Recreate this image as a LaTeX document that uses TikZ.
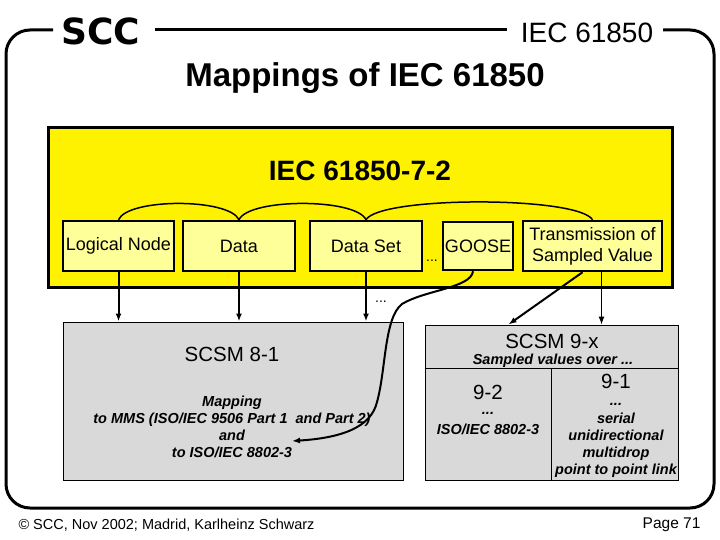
\documentclass[tikz,border=0pt]{standalone}
\usepackage{fontspec}
\setmainfont{Liberation Sans}
\newfontfamily\logofont{DejaVu Sans}
\usetikzlibrary{arrows.meta}
\definecolor{boxyellow}{RGB}{255,255,153}
\definecolor{mapgray}{RGB}{217,217,217}

\begin{document}
\begin{tikzpicture}[x=1pt,y=-1pt,
    objbox/.style={draw,line width=2.5pt,fill=boxyellow,inner sep=0pt,
        minimum height=50pt,font=\fontsize{18}{21}\selectfont,align=center},
    mapbox/.style={draw,line width=1pt,fill=mapgray,inner sep=0pt},
    note/.style={font=\fontsize{14.5}{17}\selectfont\bfseries\itshape,align=center,inner sep=1pt},
    dotsnote/.style={note,inner sep=0pt,text height=2.5pt,text depth=0pt},
    big/.style={font=\fontsize{20.5}{22}\selectfont,inner sep=1pt},
    arr/.style={line width=2pt,-{Latex[length=8pt,width=6pt]}},
    thinarr/.style={line width=1pt,-{Latex[length=8pt,width=6pt]}}]
    \useasboundingbox (0,0) rectangle (720,540);

    \draw[line width=3pt,rounded corners=24]
        (663,30) -- (714,30) -- (714,508) -- (6,508) -- (6,30) -- (53,30);
    \draw[line width=3pt] (155,30) -- (507,30);
    \node[font=\logofont\fontsize{36}{40}\selectfont\bfseries] (scc) at (101,31) {SCC};
    \node[font=\fontsize{28}{32}\selectfont] (hdr) at (587,33) {IEC 61850};
    \node[font=\fontsize{33}{36}\selectfont\bfseries] (title) at (365,78) {Mappings of IEC 61850};

    \node[draw,line width=3pt,fill=yellow,minimum width=624pt,minimum height=159pt] (iecbox) at (360,207.5) {};
    \node[font=\fontsize{28}{32}\selectfont\bfseries] (iectitle) at (360,171) {IEC 61850-7-2};

    \node[objbox,minimum width=111pt] (ln) at (118.5,246) {Logical Node};
    \node[objbox,minimum width=112pt] (data) at (239,246) {Data};
    \node[objbox,minimum width=112pt] (dset) at (366,246) {Data Set};
    \node[objbox,minimum width=70pt,minimum height=48pt] (goose) at (478,246) {GOOSE};
    \node[objbox,minimum width=139pt] (tsv) at (592.5,246) {Transmission of\\Sampled Value};
    \node[font=\fontsize{14}{16}\selectfont] (dots1) at (432,261) {...};

    \draw[line width=1.5pt] (ln.north) .. controls (128,198) and (229,198) .. (data.north);
    \draw[line width=1.5pt] (data.north) .. controls (249,198) and (356,198) .. (dset.north);
    \draw[line width=1.5pt] (dset.north) .. controls (380,196) and (578,196) .. (tsv.north);

    \node[mapbox,minimum width=340pt,minimum height=158pt] (scsm8) at (233,401) {};
    \node[big] (scsm8t) at (232,354) {SCSM 8-1};
    \node[note] (scsm8n) at (232,427) {Mapping\\to MMS (ISO/IEC 9506 Part 1\ \ and Part 2)\\and\\to ISO/IEC 8802-3};

    \node[mapbox,minimum width=253pt,minimum height=155pt] (scsm9) at (551.5,402.5) {};
    \draw[line width=1pt] ([yshift=-44pt]scsm9.north west) -- ([yshift=-44pt]scsm9.north east);
    \draw[line width=1pt] ([yshift=-44pt]scsm9.north) -- (scsm9.south);
    \node[big] (scsm9t) at (552,341) {SCSM 9-x};
    \node[note] (scsm9n) at (553,361) {Sampled values over ...};
    \node[big] (n92) at (488,392) {9-2};
    \node[dotsnote] (n92d) at (488,413) {...};
    \node[note] (n92t) at (488,429) {ISO/IEC 8802-3};
    \node[big] (n91) at (616,381) {9-1};
    \node[dotsnote] (n91d) at (616,404) {...};
    \node[note] (n91t) at (616,445) {serial\\unidirectional\\multidrop\\point to point link};

    \draw[arr] (ln.south) -- (ln.south |- scsm8.north);
    \draw[arr] (data.south) -- (data.south |- scsm8.north);
    \draw[arr] (dset.south) -- (dset.south |- scsm8.north);
    \node[font=\fontsize{14}{16}\selectfont] (dots2) at (381,302) {...};

    \coordinate (gend) at (292,441);
    \draw[arr] ([xshift=-5pt]goose.south) .. controls (471,288) and (425,290) .. (402,304)
        .. controls (384,318) and (386,370) .. (377,402)
        .. controls (371,428) and (340,438) .. (gend);
    \draw[arr] ([xshift=-10pt]tsv.south) -- ([xshift=-43pt]scsm9.north);
    \draw[thinarr] ([xshift=9pt]tsv.south) -- ([xshift=9pt]tsv.south |- scsm9.north);

    \node[font=\fontsize{14.5}{16}\selectfont,anchor=west] (copy) at (15,525) {\textcopyright{} SCC, Nov 2002; Madrid, Karlheinz Schwarz};
    \node[font=\fontsize{15.5}{17}\selectfont,anchor=east] (page) at (704,525) {Page 71};
\end{tikzpicture}
\end{document}
